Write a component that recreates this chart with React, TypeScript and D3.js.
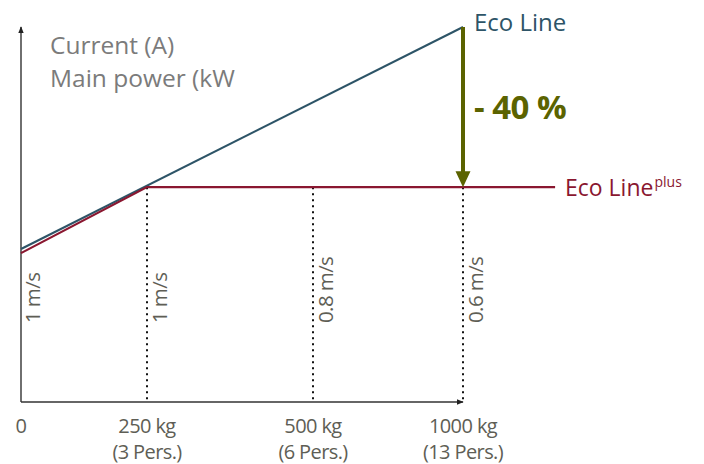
import React from "react";
import * as d3 from "d3";

const loadKg = [0, 250, 500, 1000];
const tickMain = ["0", "250 kg", "500 kg", "1000 kg"];
const tickSub = ["", "(3 Pers.)", "(6 Pers.)", "(13 Pers.)"];
const speedLabels = ["1 m/s", "1 m/s", "0.8 m/s", "0.6 m/s"];
const ecoLine = [
  { kg: 0, v: 40.8 },
  { kg: 1000, v: 100 },
];
const ecoLinePlus = [
  { kg: 0, v: 39.7 },
  { kg: 250, v: 57.3 },
  { kg: 1000, v: 57.3 },
  { kg: 1307, v: 57.3 },
];
const reductionLabel = "- 40 %";

const W = 704;
const H = 464;
const FONT = "'Open Sans', 'Noto Sans', sans-serif";
const BLUE = "#2d5467";
const RED = "#8a1730";
const OLIVE = "#5b6300";
const GREY = "#7b7b7b";
const TICK = "#5e5e55";

export default function App() {
  const x = d3.scaleLinear().domain([0, 250, 500, 1000]).range([21, 147, 313, 463]);
  const y = d3.scaleLinear().domain([0, 100]).range([402, 27]);
  const line = d3
    .line<{ kg: number; v: number }>()
    .x((d) => x(d.kg))
    .y((d) => y(d.v));
  const x0 = x(0);
  const y0 = y(0);
  const xEnd = x(1000);
  const plusY = y(57.3);
  return (
    <svg width={W} height={H} style={{ position: "absolute", left: 0, top: 0 }}>
      <defs>
        <marker id="axArrow" viewBox="0 0 10 10" refX="9" refY="5" markerWidth="7" markerHeight="7" orient="auto" markerUnits="userSpaceOnUse">
          <path d="M0,1 L10,5 L0,9 Z" fill="#222" />
        </marker>
      </defs>
      {/* dotted guides */}
      {loadKg.slice(1).map((kg) => (
        <line key={kg} x1={x(kg)} x2={x(kg)} y1={plusY} y2={y0} stroke="#111" strokeWidth={2} strokeDasharray="2 4" />
      ))}
      {/* axes */}
      <line x1={x0} x2={x0} y1={y0} y2={27} stroke="#333" strokeWidth={1.4} markerEnd="url(#axArrow)" />
      <line x1={x0} x2={xEnd} y1={y0} y2={y0} stroke="#333" strokeWidth={1.4} markerEnd="url(#axArrow)" />
      {/* lines */}
      <path d={line(ecoLine) || ""} fill="none" stroke={BLUE} strokeWidth={2} />
      <path d={line(ecoLinePlus) || ""} fill="none" stroke={RED} strokeWidth={2.2} />
      {/* reduction arrow */}
      <line x1={xEnd} x2={xEnd} y1={y(100)} y2={plusY - 14} stroke={OLIVE} strokeWidth={4} />
      <path d={`M${xEnd - 7.5},${plusY - 16} L${xEnd + 7.5},${plusY - 16} L${xEnd},${plusY} Z`} fill={OLIVE} />
      <text x={474} y={119} fill={OLIVE} fontFamily={FONT} fontWeight="bold" fontSize={33} letterSpacing={-0.5}>
        {reductionLabel}
      </text>
      {/* line labels */}
      <text x={474} y={31} fill={BLUE} fontFamily={FONT} fontSize={24}>
        Eco Line
      </text>
      <text x={565} y={196} fill={RED} fontFamily={FONT} fontSize={23}>
        Eco Line
        <tspan fontSize={14} dy={-9} dx={1}>plus</tspan>
      </text>
      {/* y title */}
      <text x={50} y={54} fill={GREY} fontFamily={FONT} fontSize={24.5}>
        Current (A)
      </text>
      <text x={50} y={87} fill={GREY} fontFamily={FONT} fontSize={24.5}>
        Main power (kW
      </text>
      {/* speed labels */}
      {loadKg.map((kg, i) => (
        <text
          key={"s" + i}
          transform={`translate(${x(kg) + (i === 0 ? 19 : 20)},${323}) rotate(-90)`}
          fill={TICK}
          fontFamily={FONT}
          fontSize={20.5}
          letterSpacing={-0.6}
        >
          {speedLabels[i]}
        </text>
      ))}
      {/* x ticks */}
      {loadKg.map((kg, i) => (
        <g key={"t" + i}>
          <text x={x(kg)} y={433} textAnchor="middle" fill={TICK} fontFamily={FONT} fontSize={20} letterSpacing={-0.6}>
            {tickMain[i]}
          </text>
          <text x={x(kg)} y={459} textAnchor="middle" fill={TICK} fontFamily={FONT} fontSize={20} letterSpacing={-0.6}>
            {tickSub[i]}
          </text>
        </g>
      ))}
    </svg>
  );
}
